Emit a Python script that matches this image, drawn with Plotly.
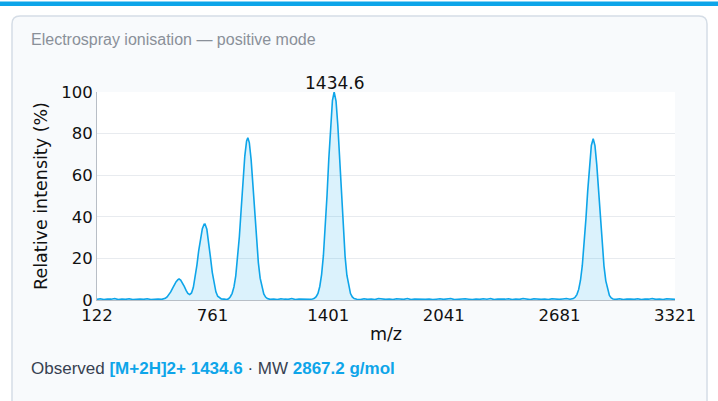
import plotly.graph_objects as go

# ---------------- data ----------------
mz_low = [122, 140, 160, 180, 200, 220, 240, 260, 280, 300, 320, 340, 360, 380, 400, 420, 440, 460, 480]
int_low = [0.3, 0.6, 0.2, 0.5, 0.4, 0.7, 0.2, 0.5, 0.3, 0.6, 0.2, 0.4, 0.5, 0.3, 0.6, 0.2, 0.4, 0.5, 0.3]

mz_z45 = [490, 500, 510, 520, 530, 540, 550, 560, 570, 576, 585, 595, 605, 615, 625, 635, 645, 655, 665,
          675, 685, 695, 705, 715, 720, 730, 740, 750, 760, 770, 780, 790, 800, 810, 825, 840, 850]
int_z45 = [0.4, 0.8, 1.5, 2.6, 3.9, 5.6, 7.3, 8.8, 9.8, 10.1, 9.6, 8.3, 6.5, 4.6, 3.2, 2.6, 3.4, 6.0, 10.5,
           16.8, 23.8, 30.0, 34.3, 36.4, 36.5, 34.0, 28.0, 20.5, 13.3, 7.6, 3.9, 1.8, 0.9, 0.5, 0.4, 0.2, 0.6]

mz_z3 = [860, 870, 880, 890, 900, 910, 920, 930, 940, 950, 956.7, 965, 975, 985, 995, 1005, 1015, 1025,
         1035, 1045, 1055, 1065]
int_z3 = [1.6, 3.2, 6.3, 11.6, 19.6, 30.5, 43.6, 57.4, 69.2, 76.5, 78.0, 75.7, 67.5, 55.2, 41.4, 28.5, 18.0,
          10.5, 5.7, 2.9, 1.4, 0.7]

mz_gap1 = [1080, 1100, 1120, 1140, 1160, 1180, 1200, 1220, 1240, 1260, 1280, 1300, 1315]
int_gap1 = [0.3, 0.5, 0.2, 0.6, 0.4, 0.3, 0.7, 0.2, 0.5, 0.4, 0.6, 0.3, 0.5]

mz_z2 = [1325, 1335, 1345, 1355, 1365, 1375, 1385, 1395, 1405, 1415, 1425, 1434.6, 1445, 1455, 1465, 1475,
         1485, 1495, 1505, 1515, 1525, 1535, 1545]
int_z2 = [0.8, 1.6, 3.2, 6.5, 12.2, 21.3, 34.0, 50.1, 67.9, 84.2, 95.9, 100.0, 95.6, 83.8, 67.5, 49.8,
          33.7, 21.0, 11.9, 6.4, 3.1, 1.5, 0.7]

mz_gap2 = [1560, 1580, 1600, 1620, 1640, 1660, 1680, 1700, 1720, 1740,
           1760, 1780, 1800, 1820, 1840, 1860, 1880, 1900, 1920, 1940,
           1960, 1980, 2000, 2020, 2040, 2060, 2080, 2100, 2120, 2140,
           2160, 2180, 2200, 2220, 2240, 2260, 2280, 2300, 2320, 2340,
           2360, 2380, 2400, 2420, 2440, 2460, 2480, 2500, 2520, 2540,
           2560, 2580, 2600, 2620, 2640, 2660, 2680, 2700, 2720, 2740]
int_gap2 = [0.4, 0.2, 0.6, 0.3, 0.5, 0.2, 0.7, 0.4, 0.3, 0.5,
            0.2, 0.6, 0.4, 0.3, 0.7, 0.2, 0.5, 0.4, 0.6, 0.3,
            0.5, 0.2, 0.4, 0.6, 0.3, 0.5, 0.7, 0.2, 0.4, 0.3,
            0.6, 0.4, 0.2, 0.5, 0.3, 0.6, 0.4, 0.7, 0.2, 0.5,
            0.3, 0.4, 0.6, 0.2, 0.5, 0.3, 0.7, 0.4, 0.2, 0.6,
            0.4, 0.3, 0.5, 0.2, 0.6, 0.4, 0.3, 0.5, 0.7, 0.4]

mz_z1 = [2758, 2768, 2778, 2788, 2798, 2808, 2818, 2828, 2838, 2848, 2858, 2868.2, 2878, 2888, 2898, 2908,
         2918, 2928, 2938, 2948, 2958, 2968, 2978]
int_z1 = [0.7, 1.3, 2.6, 5.1, 9.5, 16.6, 26.5, 39.0, 52.6, 65.3, 74.3, 77.5, 74.2, 65.1, 52.4, 38.7,
          26.2, 16.3, 9.2, 4.8, 2.2, 1.0, 0.5]

mz_high = [2995, 3015, 3035, 3055, 3075, 3095, 3115, 3135, 3155, 3175, 3195, 3215, 3235, 3255, 3275, 3295, 3321]
int_high = [0.3, 0.6, 0.2, 0.5, 0.4, 0.3, 0.6, 0.2, 0.5, 0.4, 0.7, 0.3, 0.5, 0.2, 0.6, 0.4, 0.3]

x_tickvals = [122, 761.8, 1401.6, 2041.4, 2681.2, 3321]
x_ticktext = ["122", "761", "1401", "2041", "2681", "3321"]
y_tickvals = [0, 20, 40, 60, 80, 100]

base_peak_mz = 1434.6
base_peak_label = "1434.6"
title_text = "Electrospray ionisation — positive mode"
ion_label = "[M+2H]2+ 1434.6"
mw_label = "2867.2 g/mol"

mz = mz_low + mz_z45 + mz_z3 + mz_gap1 + mz_z2 + mz_gap2 + mz_z1 + mz_high
intensity = int_low + int_z45 + int_z3 + int_gap1 + int_z2 + int_gap2 + int_z1 + int_high

# ---------------- layout geometry ----------------
W, H = 718, 401
L, R, T, B = 97, 43, 92, 101
PW, PH = W - L - R, H - T - B


def px(x):
    return (x - L) / PW


def py(y):
    return (H - B - y) / PH


BLUE = "#0ea5e9"

fig = go.Figure()
fig.add_trace(go.Scatter(
    x=mz, y=intensity, mode="lines",
    line=dict(color=BLUE, width=1.6),
    fill="tozeroy", fillcolor="rgba(14,165,233,0.15)",
    hoverinfo="skip", showlegend=False,
))

# card shape
x0, x1, yt, yb = px(12), px(707), py(16), py(440)
rx, ry = 8 / PW, 8 / PH
card_path = (f"M {x0},{yb} L {x0},{yt - ry} Q {x0},{yt} {x0 + rx},{yt} "
             f"L {x1 - rx},{yt} Q {x1},{yt} {x1},{yt - ry} L {x1},{yb} Z")
shapes = [
    dict(type="rect", xref="paper", yref="paper", x0=px(0), x1=px(718), y0=py(6), y1=py(1.5),
         fillcolor=BLUE, line=dict(width=0), layer="below"),
    dict(type="path", xref="paper", yref="paper", path=card_path,
         fillcolor="#f8fafc", line=dict(color="#d5dde6", width=1.5), layer="below"),
    dict(type="rect", xref="paper", yref="paper", x0=0, x1=1, y0=0, y1=1,
         fillcolor="white", line=dict(width=0), layer="below"),
]

annotations = [
    dict(x=base_peak_mz, y=100, xref="x", yref="y", text=base_peak_label, showarrow=False,
         yanchor="bottom", yshift=-3, font=dict(family="DejaVu Sans", size=17, color="#111")),
    dict(x=px(29), y=py(39), xref="paper", yref="paper", text=title_text, showarrow=False,
         xanchor="left", yanchor="middle", font=dict(family="Liberation Sans", size=16, color="#8a9099")),
    dict(x=px(29), y=py(368), xref="paper", yref="paper", showarrow=False,
         xanchor="left", yanchor="middle",
         text=(f"Observed <b><span style='color:{BLUE}'>{ion_label}</span></b> · MW "
               f"<b><span style='color:{BLUE}'>{mw_label}</span></b>"),
         font=dict(family="Liberation Sans", size=17, color="#374151")),
]

fig.update_layout(
    width=W, height=H,
    margin=dict(l=L, r=R, t=T, b=B),
    paper_bgcolor="white", plot_bgcolor="rgba(0,0,0,0)",
    shapes=shapes, annotations=annotations,
    font=dict(family="DejaVu Sans", size=16, color="#111"),
    showlegend=False,
)
fig.update_xaxes(
    range=[122, 3321], tickvals=x_tickvals, ticktext=x_ticktext,
    showgrid=False, zeroline=False, showline=True, linecolor="#b8bec6", linewidth=1,
    ticks="", tickfont=dict(size=16.5), title=dict(text="m/z", standoff=3, font=dict(size=17.5)),
)
fig.update_yaxes(
    range=[0, 100], tickvals=y_tickvals,
    showgrid=True, gridcolor="#e8ebef", zeroline=False, showline=True, linecolor="#b8bec6", linewidth=1,
    ticks="", tickfont=dict(size=16.5), title=dict(text="Relative intensity (%)", standoff=9, font=dict(size=17.5)),
)

fig.write_html("out.html", config={"displayModeBar": False},
               post_script="document.body.style.margin='0';")
